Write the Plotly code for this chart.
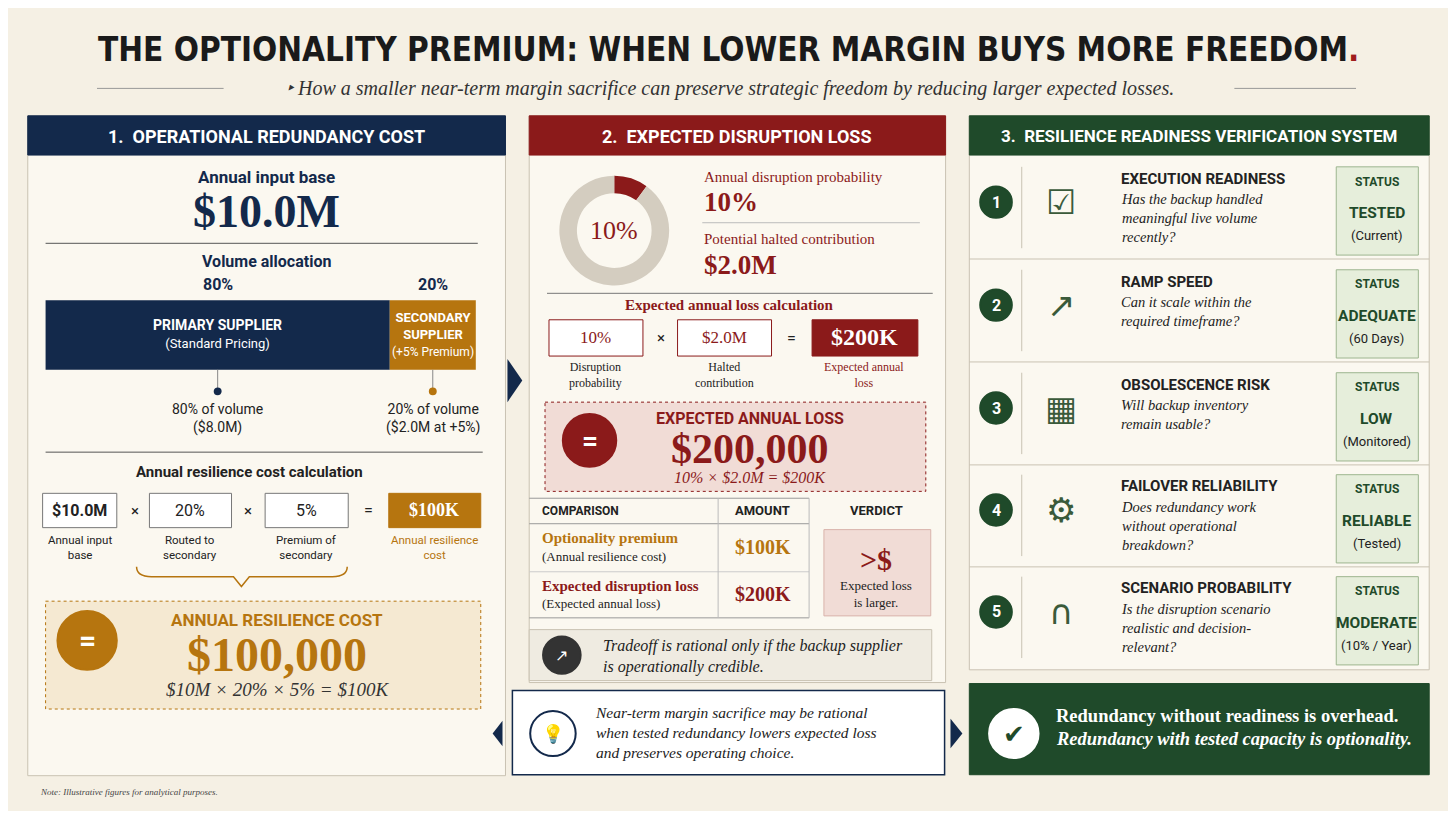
import plotly.graph_objects as go

# data
input_base = 10.0          # $M
shares = [80, 20]          # primary / secondary volume %
premium = 5                # % premium on secondary
disruption_prob = 10       # %
halted = 2.0               # $M
resilience_cost = 100000
expected_loss = 200000
checks = ["EXECUTION READINESS", "RAMP SPEED", "OBSOLESCENCE RISK", "FAILOVER RELIABILITY", "SCENARIO PROBABILITY"]
check_desc = [
    "Has the backup handled<br>meaningful live volume<br>recently?",
    "Can it scale within the<br>required timeframe?",
    "Will backup inventory<br>remain usable?",
    "Does redundancy work<br>without operational<br>breakdown?",
    "Is the disruption scenario<br>realistic and decision-<br>relevant?",
]
status = ["TESTED", "ADEQUATE", "LOW", "RELIABLE", "MODERATE"]
status_sub = ["(Current)", "(60 Days)", "(Monitored)", "(Tested)", "(10% / Year)"]

NAVY = "#13294b"
RED = "#8b1a1a"
GREEN = "#1f4a2a"
GOLD = "#b6750f"
BG = "#f5f0e4"
CARD = "#fbf8f0"
INK = "#222222"
SANS = "Roboto"
SERIF = "Liberation Serif"

fig = go.Figure()
shapes = []
ann = []


def rect(x0, y0, x1, y1, fill=None, line="#c9c2b2", width=1, dash="solid"):
    shapes.append(dict(type="rect", x0=x0, y0=y0, x1=x1, y1=y1, xref="x", yref="y",
                       fillcolor=fill or "rgba(0,0,0,0)", layer="below",
                       line=dict(color=line, width=width, dash=dash)))


def hline(x0, x1, y, color="#555", width=1, dash="solid"):
    shapes.append(dict(type="line", x0=x0, x1=x1, y0=y, y1=y, xref="x", yref="y",
                       line=dict(color=color, width=width, dash=dash)))


def vline(x, y0, y1, color="#c9c2b2", width=1):
    shapes.append(dict(type="line", x0=x, x1=x, y0=y0, y1=y1, xref="x", yref="y",
                       line=dict(color=color, width=width)))


def circle(cx, cy, r, fill, line=None):
    shapes.append(dict(type="circle", x0=cx - r, x1=cx + r, y0=cy - r, y1=cy + r, xref="x", yref="y",
                       fillcolor=fill, line=dict(color=line or fill, width=2)))


def tri(x, y, w, h, color, left=False):
    if left:
        p = f"M{x+w},{y-h} L{x},{y} L{x+w},{y+h} Z"
    else:
        p = f"M{x},{y-h} L{x+w},{y} L{x},{y+h} Z"
    shapes.append(dict(type="path", path=p, xref="x", yref="y", fillcolor=color, line=dict(width=0)))


def text(x, y, s, size=14, color=INK, font=SANS, anchor="center", bold=False, italic=False):
    if bold:
        s = f"<b>{s}</b>"
    if italic:
        s = f"<i>{s}</i>"
    ann.append(dict(x=x, y=y, xref="x", yref="y", text=s, showarrow=False, xanchor=anchor,
                    yanchor="middle", align=anchor if anchor != "center" else "center",
                    font=dict(size=size, color=color, family=font)))


# title
text(728, 42, "THE OPTIONALITY PREMIUM: WHEN LOWER MARGIN BUYS MORE FREEDOM<span style='color:#a01c1c'>.</span>",
     size=33, color="#1a1a1a", font="DejaVu Sans Condensed", bold=True)
hline(90, 218, 82, "#999")
hline(1240, 1363, 82, "#999")
text(730, 82, "‣ How a smaller near-term margin sacrifice can preserve strategic freedom by reducing larger expected losses.",
     size=20, color="#333", font=SERIF, italic=True)

# ---------- panel 1
rect(20, 110, 503, 783, CARD)
rect(20, 110, 503, 150, NAVY, NAVY)
text(261, 131, "1.  OPERATIONAL REDUNDANCY COST", 18, "white", bold=True)
text(261, 172, "Annual input base", 17, NAVY, bold=True)
text(261, 208, f"${input_base:.1f}M", 46, NAVY, SERIF, bold=True)
hline(38, 475, 240, "#555")
text(261, 259, "Volume allocation", 16, NAVY, bold=True)

bx0, bx1 = 38, 473
total_w = bx1 - bx0
left = bx0
cols = [NAVY, GOLD]
mids = []
for s, c in zip(shares, cols):
    w = total_w * s / 100
    fig.add_trace(go.Bar(x=[w], y=[333.5], base=[left], orientation="h", width=71,
                         marker=dict(color=c, line=dict(width=0)), hoverinfo="skip", showlegend=False))
    mids.append(left + w / 2)
    left += w
text(mids[0], 282, f"{shares[0]}%", 16, NAVY, bold=True)
text(mids[1], 282, f"{shares[1]}%", 16, NAVY, bold=True)
text(mids[0], 333, "PRIMARY SUPPLIER<br><span style='font-size:13px;font-weight:normal'>(Standard Pricing)</span>", 14, "white", bold=True)
text(mids[1], 333, "SECONDARY<br>SUPPLIER<br><span style='font-size:12px;font-weight:normal'>(+5% Premium)</span>", 13, "white", bold=True)
for m, c, t in [(mids[0], NAVY, f"{shares[0]}% of volume<br>(${input_base*shares[0]/100:.1f}M)"),
                (mids[1], GOLD, f"{shares[1]}% of volume<br>(${input_base*shares[1]/100:.1f}M at +{premium}%)")]:
    vline(m, 369, 390, "#888")
    circle(m, 391, 3, c)
    text(m, 419, t, 14, INK)
hline(38, 480, 453, "#555")
text(244, 473, "Annual resilience cost calculation", 15, INK, bold=True)
boxes = [(35, 110, f"${input_base:.1f}M"), (143, 226, f"{shares[1]}%"), (260, 344, f"{premium}%")]
for x0, x1, s in boxes:
    rect(x0, 495, x1, 530, "white", "#777")
    text((x0 + x1) / 2, 512, s, 16, INK, bold=(s[0] == "$"))
text(128, 513, "×", 15)
text(243, 513, "×", 15)
text(364, 513, "=", 16)
rect(385, 495, 478, 530, GOLD, GOLD)
text(431, 512, f"${resilience_cost//1000}K", 18, "white", SERIF, bold=True)
text(73, 550, "Annual input<br>base", 11.5)
text(184, 550, "Routed to<br>secondary", 11.5)
text(302, 550, "Premium of<br>secondary", 11.5)
text(431, 550, "Annual resilience<br>cost", 11.5, GOLD)
shapes.append(dict(type="path", path="M130,570 Q130,580 145,580 L228,580 L236,590 L244,580 L328,580 Q343,580 343,570",
                   xref="x", yref="y", line=dict(color=GOLD, width=1.5)))
rect(38, 605, 478, 715, "#f5e9d2", GOLD, 1, "dot")
circle(80, 645, 30, GOLD)
text(80, 645, "=", 30, "white", bold=True)
text(272, 624, "ANNUAL RESILIENCE COST", 17, GOLD, bold=True)
text(272, 659, f"${resilience_cost:,}", 48, GOLD, SERIF, bold=True)
text(272, 695, f"$10M × {shares[1]}% × {premium}% = $100K", 19, "#333", SERIF, italic=True)

tri(505, 380, 15, 22, NAVY)

# ---------- panel 2
rect(527, 110, 948, 688, CARD)
rect(527, 110, 948, 150, RED, RED)
text(737, 131, "2.  EXPECTED DISRUPTION LOSS", 18, "white", bold=True)
fig.add_trace(go.Pie(values=[disruption_prob, 100 - disruption_prob], hole=0.68, sort=False,
                     direction="clockwise", rotation=0, marker=dict(colors=[RED, "#d4cdc0"]),
                     textinfo="none", hoverinfo="skip", showlegend=False,
                     domain=dict(x=[(613 - 56) / 1456, (613 + 56) / 1456], y=[1 - 283 / 819, 1 - 171 / 819])))
text(613, 227, f"{disruption_prob}%", 26, RED, SERIF)
text(702, 172, "Annual disruption probability", 15, RED, SERIF, "left")
text(702, 198, f"{disruption_prob}%", 27, RED, SERIF, "left", bold=True)
hline(702, 922, 219, "#bbb")
text(702, 236, "Potential halted contribution", 15, RED, SERIF, "left")
text(702, 262, f"${halted:.1f}M", 27, RED, SERIF, "left", bold=True)
hline(545, 935, 291, "#777")
text(730, 303, "Expected annual loss calculation", 15, RED, SERIF, bold=True)
for x0, x1, s in [(547, 642, f"{disruption_prob}%"), (677, 772, f"${halted:.1f}M")]:
    rect(x0, 318, x1, 355, "white", RED)
    text((x0 + x1) / 2, 336, s, 17, RED, SERIF)
text(660, 337, "×", 15)
text(792, 337, "=", 16)
rect(813, 318, 920, 355, RED, RED)
text(866, 336, f"${expected_loss//1000}K", 24, "white", SERIF, bold=True)
text(594, 374, "Disruption<br>probability", 12, INK, SERIF)
text(724, 374, "Halted<br>contribution", 12, INK, SERIF)
text(866, 374, "Expected annual<br>loss", 12, RED, SERIF)
rect(543, 402, 928, 493, "#f1dcd6", RED, 1, "dot")
circle(588, 441, 27, RED)
text(588, 441, "=", 28, "white", bold=True)
text(750, 419, "EXPECTED ANNUAL LOSS", 16, RED, bold=True)
text(750, 450, f"${expected_loss:,}", 42, RED, SERIF, bold=True)
text(750, 479, f"{disruption_prob}% × ${halted:.1f}M = $200K", 16, RED, SERIF, italic=True)
hline(527, 810, 500, "#999")
hline(527, 810, 526, "#999")
hline(527, 810, 575, "#ccc")
hline(527, 810, 622, "#999")
vline(718, 500, 622, "#bbb")
vline(810, 500, 622, "#bbb")
text(538, 513, "COMPARISON", 12, INK, anchor="left", bold=True)
text(763, 513, "AMOUNT", 13, INK, bold=True)
text(878, 513, "VERDICT", 13, INK, bold=True)
text(538, 541, "Optionality premium", 15, GOLD, SERIF, "left", bold=True)
text(538, 559, "(Annual resilience cost)", 13, INK, SERIF, "left")
text(763, 550, f"${resilience_cost//1000}K", 20, GOLD, SERIF, bold=True)
text(538, 590, "Expected disruption loss", 15, RED, SERIF, "left", bold=True)
text(538, 607, "(Expected annual loss)", 13, INK, SERIF, "left")
text(763, 598, f"${expected_loss//1000}K", 20, RED, SERIF, bold=True)
rect(825, 532, 933, 620, "#f1dcd6", "#d9b3ab")
text(878, 562, "&gt;$", 30, RED, SERIF, bold=True)
text(878, 598, "Expected loss<br>is larger.", 13, INK, SERIF)
rect(527, 634, 934, 686, "#efebe1", "#c9c2b2")
circle(560, 660, 19, "#333")
text(560, 660, "↗", 16, "white")
text(600, 661, "Tradeoff is rational only if the backup supplier<br>is operationally credible.", 16, INK, SERIF, "left", italic=True)

# ---------- panel 3
rect(972, 110, 1437, 675, CARD)
rect(972, 110, 1437, 150, GREEN, GREEN)
text(1204, 131, "3.  RESILIENCE READINESS VERIFICATION SYSTEM", 17, "white", bold=True)
icons = ["☑", "↗", "▦", "⚙", "∩"]
row_top = [152, 257, 362, 466, 570]
for i, y0 in enumerate(row_top):
    y1 = y0 + 103
    if i < 4:
        hline(972, 1437, y1 + 1, "#c9c2b2")
    cy = y0 + 46
    circle(999, cy, 16, GREEN)
    text(999, cy, str(i + 1), 16, "white", bold=True)
    vline(1025, y0 + 10, y1 - 10)
    text(1065, cy, icons[i], 34, "#3a5a3a", "DejaVu Sans")
    text(1123, y0 + 22, checks[i], 15, INK, anchor="left", bold=True)
    n = check_desc[i].count("<br>") + 1
    text(1123, y0 + 44 + (n - 1) * 9, check_desc[i], 14.5, INK, SERIF, "left", italic=True)
    rect(1343, y0 + 10, 1426, y1 - 3, "#e6eedb", "#9db58f")
    text(1384, y0 + 25, "STATUS", 12, GREEN, bold=True)
    text(1384, y0 + 57, status[i], 15.5, GREEN, bold=True)
    text(1384, y0 + 80, status_sub[i], 13, INK)

# bottom boxes
tri(490, 740, 10, 13, NAVY, left=True)
rect(510, 696, 947, 782, "white", NAVY, 1.5)
circle(551, 740, 23, "white", NAVY)
text(551, 740, "💡", 18, NAVY)
text(592, 739, "Near-term margin sacrifice may be rational<br>when tested redundancy lowers expected loss<br>and preserves operating choice.",
     15.5, INK, SERIF, "left", italic=True)
tri(953, 740, 12, 15, NAVY)
rect(972, 689, 1437, 782, GREEN, GREEN)
circle(1017, 740, 25, "white")
text(1017, 740, "✔", 26, GREEN, "DejaVu Sans", bold=True)
text(1058, 722, "Redundancy without readiness is overhead.", 18.5, "white", SERIF, "left", bold=True)
text(1058, 746, "Redundancy with tested capacity is optionality.", 18.5, "white", SERIF, "left", bold=True, italic=True)

text(30, 800, "Note: Illustrative figures for analytical purposes.", 9, "#444", SERIF, "left", italic=True)

fig.update_layout(
    width=1440, height=803, margin=dict(l=0, r=0, t=0, b=0),
    paper_bgcolor=BG, plot_bgcolor=BG, shapes=shapes, annotations=ann, barmode="overlay",
    xaxis=dict(range=[0, 1456], visible=False, fixedrange=True),
    yaxis=dict(range=[819, 0], visible=False, fixedrange=True),
)
fig.write_html("out.html")
